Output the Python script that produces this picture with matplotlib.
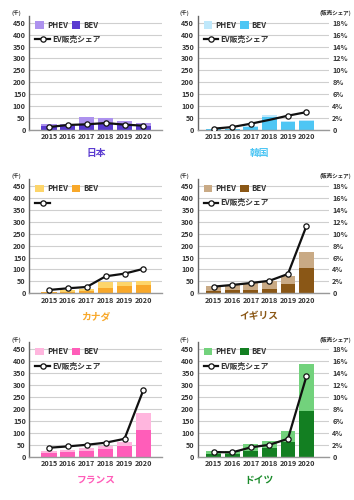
import matplotlib
matplotlib.use("Agg")
import matplotlib.pyplot as plt
from matplotlib.patches import Patch
from matplotlib.lines import Line2D

plt.rcParams['font.family'] = ['Noto Sans CJK JP', 'DejaVu Sans']

years = ["2015", "2016", "2017", "2018", "2019", "2020"]

countries = ["日本", "韓国", "カナダ", "イギリス", "フランス", "ドイツ"]

# BEV sales (thousands)
bev_japan = [15, 15, 19, 27, 21, 16]
bev_korea = [3, 5, 13, 55, 33, 38]
bev_canada = [4, 5, 8, 24, 32, 36]
bev_uk = [11, 12, 14, 18, 38, 107]
bev_france = [17, 21, 25, 31, 43, 110]
bev_germany = [11, 11, 24, 35, 61, 193]

# PHEV sales (thousands)
phev_japan = [9, 12, 34, 22, 18, 15]
phev_korea = [1, 1, 4, 7, 3, 4]
phev_canada = [3, 7, 10, 22, 17, 16]
phev_uk = [18, 21, 28, 34, 36, 68]
phev_france = [7, 7, 10, 14, 18, 73]
phev_germany = [11, 14, 30, 32, 48, 197]

# EV sales share (%)
share_japan = [0.5, 0.84, 0.95, 1.17, 0.9, 0.73]
share_korea = [0.22, 0.5, 1.06, 1.7, 2.4, 3.0]
share_canada = [0.56, 0.84, 1.06, 2.85, 3.3, 4.1]
share_uk = [1.12, 1.4, 1.73, 2.1, 3.24, 11.3]
share_france = [1.5, 1.73, 2.0, 2.35, 3.0, 11.2]
share_germany = [0.78, 0.73, 1.57, 2.0, 3.0, 13.5]

left_ticks = [0, 50, 100, 150, 200, 250, 300, 350, 400, 450]
right_ticks = [0, 2, 4, 6, 8, 10, 12, 14, 16, 18]
right_labels = ["0", "2%", "4%", "6%", "8%", "10%", "12%", "14%", "16%", "18%"]

bev = [bev_japan, bev_korea, bev_canada, bev_uk, bev_france, bev_germany]
phev = [phev_japan, phev_korea, phev_canada, phev_uk, phev_france, phev_germany]
share = [share_japan, share_korea, share_canada, share_uk, share_france, share_germany]

phev_colors = ["#ad92ee", "#bfe8fb", "#fdd56a", "#c9aa85", "#ffb6de", "#72d27c"]
bev_colors = ["#5a3bd0", "#4ec6f4", "#f8a82a", "#8a5716", "#ff5db9", "#137f22"]
title_colors = ["#5a3bd0", "#4ec6f4", "#f8a82a", "#8a5716", "#ff5db9", "#1c8c2c"]

fig = plt.figure(figsize=(3.54, 5.0), dpi=100)

W, H = 354.0, 500.0
col_x = [(29.3, 162.3), (197.7, 328.7)]
row_zero = [130.0, 293.3, 456.7]
px_per_unit = 107.3 / 450.0
ytop = 480.0
xlims = [(-1.04, 6.0), (-0.87, 6.2)]

txt_color = "#333333"
tick_fs = 5.2
leg_fs = 5.6

for i, name in enumerate(countries):
    r, c = divmod(i, 2)
    x0, x1 = col_x[c]
    z = row_zero[r]
    top = z - ytop * px_per_unit
    ax = fig.add_axes([x0 / W, 1 - z / H, (x1 - x0) / W, (z - top) / H])
    ax2 = ax.twinx()
    xs = list(range(len(years)))
    ax.bar(xs, bev[i], width=0.8, color=bev_colors[i], zorder=2)
    ax.bar(xs, phev[i], bottom=bev[i], width=0.8, color=phev_colors[i], zorder=2)
    ax.set_ylim(0, ytop)
    ax.set_xlim(*xlims[c])
    ax.set_yticks(left_ticks)
    ax.set_yticklabels([str(t) for t in left_ticks], fontsize=tick_fs, color=txt_color, fontweight='bold')
    ax.set_xticks(xs)
    ax.set_xticklabels(years, fontsize=tick_fs, color=txt_color, fontweight='bold')
    ax.tick_params(axis='both', length=0, pad=2.5)
    ax.grid(axis='y', color="#cfcfcf", linewidth=0.8, zorder=0)
    ax.set_axisbelow(True)
    for s in ["top", "right"]:
        ax.spines[s].set_visible(False)
    ax.spines["left"].set_color("#666666")
    ax.spines["left"].set_linewidth(1.0)
    ax.spines["bottom"].set_color("#999999")
    ax.spines["bottom"].set_linewidth(1.0)

    ax2.set_ylim(0, ytop / 25.0)
    markevery = [0, 1, 2, 4, 5] if name == "韓国" else None
    ax2.plot(xs, share[i], color="#111111", linewidth=1.6, marker='o', markersize=3.8,
             markerfacecolor='white', markeredgecolor='#111111', markeredgewidth=0.9,
             markevery=markevery, zorder=5)
    for s in ["top", "right", "left", "bottom"]:
        ax2.spines[s].set_visible(False)
    if c == 1:
        ax2.set_yticks(right_ticks)
        ax2.set_yticklabels(right_labels, fontsize=tick_fs, color=txt_color, fontweight='bold')
        ax2.tick_params(axis='y', length=0, pad=2.5)
        fig.text(351 / W, 1 - (z - 117) / H, "(販売シェア)", fontsize=4.0, color=txt_color,
                 ha='right', va='center', fontweight='bold')
    else:
        ax2.set_yticks([])

    fig.text((x0 - 13) / W, 1 - (z - 117) / H, "(千)", fontsize=4.0, color=txt_color,
             ha='center', va='center', fontweight='bold')

    # Legends
    h1 = [Patch(facecolor=phev_colors[i]), Patch(facecolor=bev_colors[i])]
    leg1 = ax2.legend(h1, ["PHEV", "BEV"], ncol=2, loc='upper left',
                      bbox_to_anchor=(0.045, 0.955), frameon=False,
                      handlelength=1.1, handleheight=1.1, handletextpad=0.4,
                      columnspacing=0.5, borderaxespad=0, borderpad=0,
                      prop={'weight': 'bold', 'size': leg_fs})
    for t in leg1.get_texts():
        t.set_color(txt_color)
    ax2.add_artist(leg1)
    lh = Line2D([0], [0], color="#111111", linewidth=1.6, marker='o', markersize=3.8,
                markerfacecolor='white', markeredgecolor='#111111', markeredgewidth=0.9)
    lab = "" if name == "カナダ" else "EV販売シェア"
    leg2 = ax2.legend([lh], [lab], loc='upper left', bbox_to_anchor=(0.045, 0.83),
                      frameon=False, handlelength=1.9, handletextpad=0.3,
                      borderaxespad=0, borderpad=0, prop={'weight': 'bold', 'size': leg_fs})
    for t in leg2.get_texts():
        t.set_color(txt_color)

    # Title
    cx = (x0 + x1) / 2.0 if c == 0 else (x0 + x1) / 2.0 - 4
    fig.text(cx / W, 1 - (z + 23) / H, name, fontsize=7, color=title_colors[i],
             ha='center', va='center', fontweight='bold')

fig.savefig("out.png", dpi=100)
